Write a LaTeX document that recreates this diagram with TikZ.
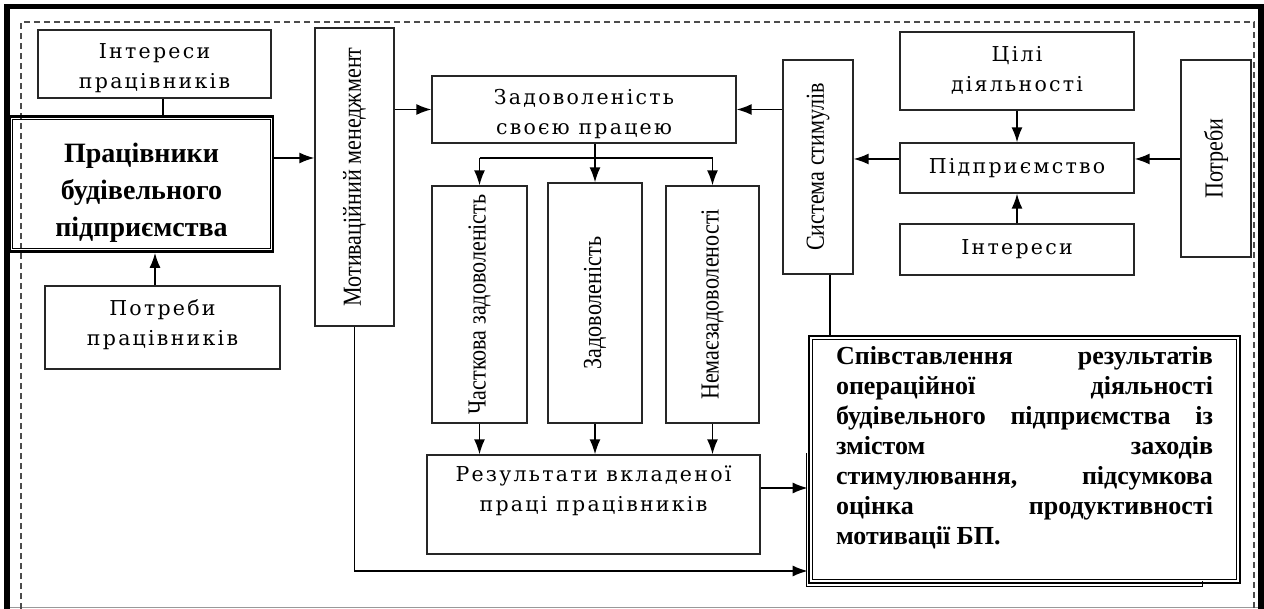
\documentclass[tikz,border=0pt]{standalone}
\usepackage{fontspec}
\setmainfont{Liberation Serif}
\newfontfamily\spacedfont[LetterSpace=11]{DejaVu Serif}
\usepackage{graphicx}
\usetikzlibrary{arrows.meta}
\newcommand{\vtext}[1]{\rotatebox{90}{\scalebox{0.85}[1]{#1}}}
\newcommand{\stacklines}[2]{\raisebox{#1}[\height][\depth]{\begin{tabular}{@{}c@{}}#2\end{tabular}}}
\tikzset{
  box/.style={draw=black!85, line width=1.3pt, inner sep=0pt, align=center, font=\spacedfont\fontsize{20.5}{30}\selectfont},
  vbox/.style={draw=black!85, line width=1.3pt, inner sep=0pt, font=\fontsize{26}{30}\selectfont},
  dbox/.style={draw=black, line width=2.6pt, inner sep=0pt},
  arr/.style={line width=1.6pt, -{Latex[length=15pt,width=11pt]}},
  link/.style={line width=1.6pt}
}

\begin{document}
\begin{tikzpicture}[x=1pt,y=-1pt]
\useasboundingbox (0,0) rectangle (1264,609);
\draw[line width=5.5pt] (7,609) -- (7,6.5) -- (1261,6.5) -- (1261,609);
\draw[black!40, line width=1.2pt] (10,607.5) -- (1258,607.5);
\draw[black!70, line width=1.1pt, dash pattern=on 6pt off 4pt] (21,609) -- (21,22) -- (1254,22) -- (1254,609);

\node[box, minimum width=233, minimum height=68] (int_workers) at (154.5,64) {\stacklines{-4pt}{Інтереси\\працівників}};
\node[dbox, minimum width=263, minimum height=135, font=\fontsize{28}{37}\selectfont\bfseries] (workers) at (141.5,184) {\stacklines{-8pt}{Працівники\\будівельного\\підприємства}};
\node[box, minimum width=235, minimum height=83] (needs_workers) at (162.5,327.5) {\stacklines{3pt}{Потреби\\працівників}};
\node[vbox, minimum width=79, minimum height=298] (motiv) at (354.5,177) {\vtext{Мотиваційний менеджмент}};
\node[box, minimum width=304, minimum height=67] (satisf) at (584,109.5) {\stacklines{-4pt}{Задоволеність\\своєю працею}};
\node[vbox, minimum width=95, minimum height=237] (partial) at (479.5,304.5) {\vtext{Часткова задоволеність}};
\node[vbox, minimum width=94, minimum height=240] (full) at (595,303) {\vtext{Задоволеність}};
\node[vbox, minimum width=93, minimum height=237] (none) at (712.5,304.5) {\vtext{Немаєзадоволеності}};
\node[box, minimum width=333, minimum height=99] (results) at (593.5,504.5) {\stacklines{14pt}{Результати вкладеної\\праці працівників}};
\node[vbox, minimum width=70, minimum height=214] (stimuli) at (818,167) {\vtext{Система стимулів}};
\node[dbox, minimum width=431, minimum height=247] (compare) at (1024.5,459.5) {\parbox{377pt}{\fontsize{26}{30}\selectfont\bfseries
Співставлення\hfill результатів\\
операційної\hfill діяльності\\
будівельного\hfill підприємства\hfill із\\
змістом\hfill заходів\\
стимулювання,\hfill підсумкова\\
оцінка\hfill продуктивності\\
мотивації БП.\par\vspace{24pt}}};
\node[box, minimum width=234, minimum height=78] (goals) at (1017,71) {\stacklines{0pt}{Цілі\\діяльності}};
\node[box, minimum width=234, minimum height=50] (enterprise) at (1017,168) {Підприємство};
\node[box, minimum width=234, minimum height=51] (interests) at (1017,249.5) {Інтереси};
\node[vbox, minimum width=70, minimum height=197] (needs) at (1216,158.5) {\vtext{Потреби}};

\foreach \n/\d in {workers/4,compare/5}
  \draw[line width=1pt] ([shift={(\d,\d)}]\n.north west) rectangle ([shift={(-\d,-\d)}]\n.south east);
\draw[line width=0.9pt] (806,453) -- (806,586) -- (1202,586) -- (1202,581);

\coordinate (col_a) at (163,0);
\coordinate (col_b) at (155,0);
\coordinate (col_c) at (830,0);
\coordinate (row_a) at (0,158);
\coordinate (row_b) at (0,159);
\coordinate (row_c) at (0,488);
\coordinate (row_d) at (0,571);

\draw[link] (int_workers.south -| col_a) -- (workers.north -| col_a);
\draw[arr] (needs_workers.north -| col_b) -- (workers.south -| col_b);
\draw[arr] (workers.east |- row_a) -- (motiv.west |- row_a);
\draw[arr] (motiv.east |- satisf.west) -- (satisf.west);
\draw[arr] (stimuli.west |- satisf.east) -- (satisf.east);
\draw[arr] (satisf.south -| full.north) -- (full.north);
\draw[link] (partial.north |- row_a) -- (none.north |- row_a);
\draw[arr] (partial.north |- row_a) -- (partial.north);
\draw[arr] (none.north |- row_a) -- (none.north);
\foreach \n in {partial,full,none}
  \draw[arr] (\n.south) -- (\n.south |- results.north);
\draw[arr] (results.east |- row_c) -- (compare.west |- row_c);
\draw[arr] (motiv.south) |- (compare.west |- row_d);
\draw[link] (stimuli.south -| col_c) -- (compare.north -| col_c);
\draw[arr] (goals.south) -- (enterprise.north);
\draw[arr] (interests.north) -- (enterprise.south);
\draw[arr] (enterprise.west |- row_b) -- (stimuli.east |- row_b);
\draw[arr] (needs.west |- row_b) -- (enterprise.east |- row_b);
\end{tikzpicture}
\end{document}
